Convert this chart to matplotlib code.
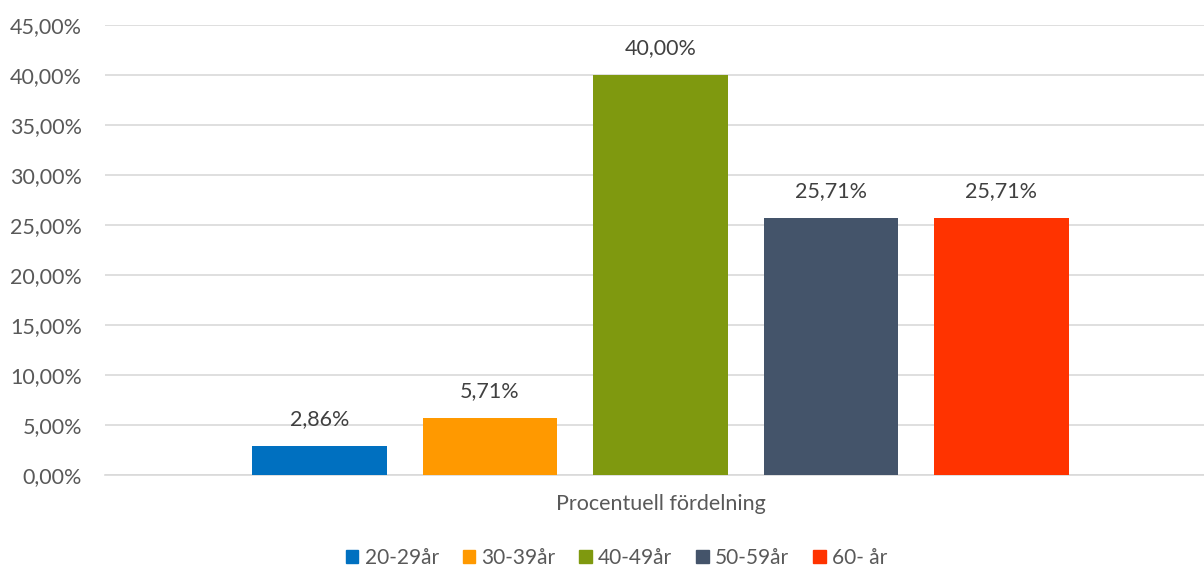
import matplotlib.pyplot as plt
from matplotlib.patches import Patch

plt.rcParams['font.family'] = ['Lato', 'DejaVu Sans']

# data
series = ['20-29år', '30-39år', '40-49år', '50-59år', '60- år']
values = [2.86, 5.71, 40.00, 25.71, 25.71]
colors = ['#0070C0', '#FF9900', '#7F990F', '#44546A', '#FF3300']
category = 'Procentuell fördelning'
yticks = [0, 5, 10, 15, 20, 25, 30, 35, 40, 45]

fs = 15.5

fig = plt.figure(figsize=(12.04, 5.70), dpi=100)
ax = fig.add_axes([0.0872, 0.1667, 0.9128, 0.7895])

pos = [i - 2 for i in range(len(values))]
ax.bar(pos, values, width=0.79, color=colors, zorder=3)

for x, v in zip(pos, values):
    ax.text(x, v + 1.7, f'{v:.2f}%'.replace('.', ','), ha='center', va='bottom',
            fontsize=fs, color='#404040')

ax.set_xlim(-3.258, 3.188)
ax.set_ylim(0, 45)
ax.set_yticks(yticks)
ax.set_yticklabels([f'{t:.2f}%'.replace('.', ',') for t in yticks])
ax.tick_params(axis='y', length=0, labelsize=fs, labelcolor='#595959', pad=16.5)
ax.set_xticks([0])
ax.set_xticklabels([category])
ax.tick_params(axis='x', length=0, labelsize=fs, labelcolor='#595959', pad=14)

ax.grid(axis='y', color='#D9D9D9', linewidth=1.2, zorder=0)
for s in ['top', 'right', 'left']:
    ax.spines[s].set_visible(False)
ax.spines['bottom'].set_color('#D9D9D9')
ax.spines['bottom'].set_linewidth(1.2)

handles = [Patch(color=c, label=s) for c, s in zip(colors, series)]
fig.legend(handles=handles, loc='center', bbox_to_anchor=(0.512, 0.021), ncol=5,
           frameon=False, fontsize=15, labelcolor='#595959',
           handlelength=0.6, handleheight=0.6, handletextpad=0.3, columnspacing=1.15)

fig.savefig('out.png', dpi=100)
